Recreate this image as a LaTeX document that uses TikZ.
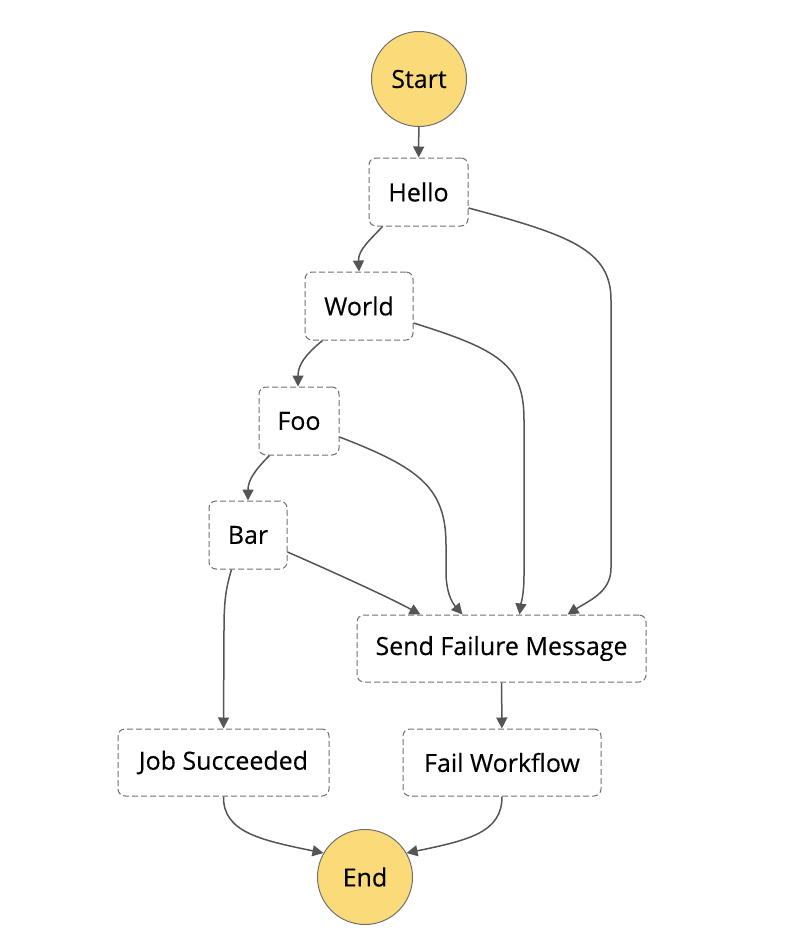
\documentclass[tikz,border=0pt]{standalone}
\usepackage{fontspec}
\setmainfont{Open Sans}
\newfontfamily\nodefont{Open Sans}[FakeBold=0.3]
\usetikzlibrary{arrows.meta,calc}
\definecolor{edgecol}{HTML}{555555}
\definecolor{boxcol}{HTML}{707070}
\definecolor{circfill}{HTML}{FADA79}
\tikzset{
  statebox/.style={draw=boxcol, line width=1pt, dash pattern=on 6pt off 3pt, rounded corners=7pt, minimum height=68pt, inner sep=0pt, font=\nodefont\fontsize{25}{29}\selectfont, text=black},
  endpt/.style={circle, draw=boxcol, line width=1pt, fill=circfill, minimum size=95pt, inner sep=0pt, font=\nodefont\fontsize{25}{29}\selectfont, text=black},
  flow/.style={draw=edgecol, line width=1.5pt, -{Triangle[length=11pt,width=11pt]}}
}
\begin{document}
\begin{tikzpicture}[x=1pt,y=-1pt]
\useasboundingbox (0,0) rectangle (790,942);
\node[endpt] (start) at (419,79) {Start};
\node[statebox, minimum width=99pt] (hello) at (418.5,192) {Hello};
\node[statebox, minimum width=108pt] (world) at (359,306) {World};
\node[statebox, minimum width=80pt] (foo) at (299,421) {Foo};
\node[statebox, minimum width=78pt] (bar) at (248,535) {Bar};
\node[statebox, minimum width=289pt, minimum height=67pt] (sfm) at (501.5,648.5) {Send Failure Message};
\node[statebox, minimum width=211pt, minimum height=67pt] (job) at (223.5,762.5) {Job Succeeded};
\node[statebox, minimum width=198pt, minimum height=67pt] (fail) at (502,762.5) {Fail Workflow};
\node[endpt] (end) at (365,877) {End};

\draw[flow] (start) -- (hello);
\draw[flow] ($(hello.south west)+(14,0)$) .. controls (370,240) and (358,250) .. (world.north);
\draw[flow] ($(world.south west)+(18,0)$) .. controls (305,355) and (298,365) .. ($(foo.north)+(-1,0)$);
\draw[flow] ($(foo.south west)+(11,0)$) .. controls (255,470) and (248,480) .. (bar.north);
\draw[flow] ($(hello.east)+(0,16)$) .. controls (570,235) and (611,250) .. (611,300) -- (611,568) .. controls (611,592) and (590,600) .. ($(sfm.north)+(66,0)$);
\draw[flow] ($(world.east)+(0,17)$) .. controls (500,350) and (524,365) .. (524,420) -- (524,575) .. controls (524,595) and (521,603) .. ($(sfm.north)+(18,0)$);
\draw[flow] ($(foo.east)+(0,16)$) .. controls (420,468) and (446,488) .. (446,545) -- (446,575) .. controls (447,598) and (455,606) .. ($(sfm.north)+(-39,0)$);
\draw[flow] ($(bar.east)+(0,17)$) .. controls (340,575) and (390,598) .. ($(sfm.north)+(-81,0)$);
\draw[flow] ($(bar.south west)+(23,0)$) .. controls (226,588) and (224,600) .. (224,630) -- (job.north);
\draw[flow] (sfm) -- (fail);
\draw[flow] (job.south) .. controls (223,832) and (260,840) .. (end.150);
\draw[flow] (fail.south) .. controls (502,832) and (470,840) .. (end.30);
\end{tikzpicture}
\end{document}
